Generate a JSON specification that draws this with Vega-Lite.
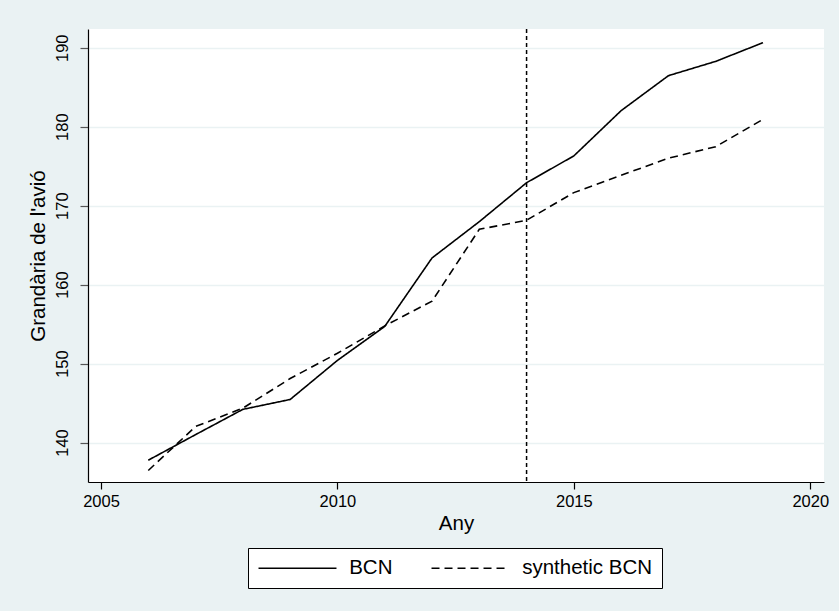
{
  "$schema": "https://vega.github.io/schema/vega-lite/v6.json",
  "width": 736,
  "height": 453,
  "autosize": {"type": "none"},
  "padding": {"left": 88, "top": 29, "right": 15, "bottom": 129},
  "background": "#EAF2F3",
  "config": {
    "view": {"fill": "white", "stroke": null},
    "font": "Liberation Sans",
    "axis": {"labelColor": "black", "titleColor": "black", "domainColor": "black", "tickColor": "black", "labelFont": "Liberation Sans", "titleFont": "Liberation Sans", "titleFontWeight": "normal"},
    "legend": {"labelFont": "Liberation Sans"}
  },
  "datasets": {
    "series": [
      {"year": 2006, "series": "BCN", "value": 137.76},
      {"year": 2007, "series": "BCN", "value": 141.0},
      {"year": 2008, "series": "BCN", "value": 144.2},
      {"year": 2009, "series": "BCN", "value": 145.45},
      {"year": 2010, "series": "BCN", "value": 150.4},
      {"year": 2011, "series": "BCN", "value": 154.7},
      {"year": 2012, "series": "BCN", "value": 163.37},
      {"year": 2013, "series": "BCN", "value": 167.97},
      {"year": 2014, "series": "BCN", "value": 172.9},
      {"year": 2015, "series": "BCN", "value": 176.3},
      {"year": 2016, "series": "BCN", "value": 182.03},
      {"year": 2017, "series": "BCN", "value": 186.46},
      {"year": 2018, "series": "BCN", "value": 188.27},
      {"year": 2019, "series": "BCN", "value": 190.64},
      {"year": 2006, "series": "synthetic BCN", "value": 136.46},
      {"year": 2007, "series": "synthetic BCN", "value": 142.03},
      {"year": 2008, "series": "synthetic BCN", "value": 144.35},
      {"year": 2009, "series": "synthetic BCN", "value": 148.1},
      {"year": 2010, "series": "synthetic BCN", "value": 151.3},
      {"year": 2011, "series": "synthetic BCN", "value": 154.77},
      {"year": 2012, "series": "synthetic BCN", "value": 157.9},
      {"year": 2013, "series": "synthetic BCN", "value": 167.0},
      {"year": 2014, "series": "synthetic BCN", "value": 168.15},
      {"year": 2015, "series": "synthetic BCN", "value": 171.65},
      {"year": 2016, "series": "synthetic BCN", "value": 173.85},
      {"year": 2017, "series": "synthetic BCN", "value": 176.0},
      {"year": 2018, "series": "synthetic BCN", "value": 177.47},
      {"year": 2019, "series": "synthetic BCN", "value": 180.93}
    ],
    "treatment": [{"year": 2014}]
  },
  "layer": [
    {
      "data": {"name": "series"},
      "mark": {"type": "line", "color": "black", "strokeWidth": 1.6},
      "encoding": {
        "x": {
          "field": "year", "type": "quantitative",
          "scale": {"domain": [2004.725, 2020.29], "nice": false, "zero": false},
          "axis": {"title": "Any", "values": [2005, 2010, 2015, 2020], "format": "d", "grid": false,
                   "labelFontSize": 16.5, "titleFontSize": 20.5, "tickSize": 7, "labelPadding": 4, "titlePadding": 4,
                   "domainWidth": 1.2, "tickWidth": 1.2}
        },
        "y": {
          "field": "value", "type": "quantitative",
          "scale": {"domain": [135, 192.37], "nice": false, "zero": false},
          "axis": {"title": "Grandària de l'avió", "values": [140, 150, 160, 170, 180, 190], "grid": true,
                   "gridColor": "#EAF2F3", "gridWidth": 1.6, "labelAngle": -90, "labelFontSize": 16.5,
                   "titleFontSize": 20.5, "tickSize": 8, "labelPadding": 10, "titlePadding": 6,
                   "domainWidth": 1.2, "tickWidth": 1.2, "tickColor": "#555555"}
        },
        "strokeDash": {
          "field": "series", "type": "nominal",
          "scale": {"domain": ["BCN", "synthetic BCN"], "range": [[1, 0], [8, 5]]},
          "legend": {
            "title": null, "orient": "none", "legendX": 160, "legendY": 519, "direction": "horizontal",
            "columns": 2, "symbolType": "M-4,0L4,0", "symbolSize": 380, "symbolStrokeColor": "black",
            "symbolStrokeWidth": 1.6, "symbolOffset": 29.5, "labelFontSize": 20.5, "labelColor": "black", "labelOffset": 40.7,
            "columnPadding": 35, "padding": 9, "strokeColor": "black", "fillColor": "white", "labelLimit": 300
          }
        }
      }
    },
    {
      "data": {"name": "treatment"},
      "mark": {"type": "rule", "color": "black", "strokeWidth": 1.5, "strokeDash": [4, 3]},
      "encoding": {"x": {"field": "year", "type": "quantitative"}}
    }
  ]
}
